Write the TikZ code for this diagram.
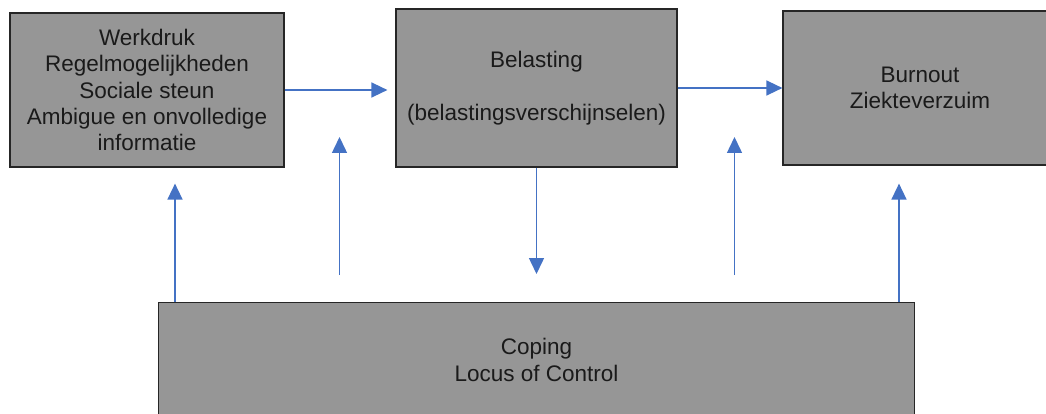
\documentclass[tikz,border=0pt]{standalone}
\usepackage{fontspec}
\setmainfont{Liberation Sans}
\usetikzlibrary{arrows.meta}
\definecolor{boxgray}{RGB}{150,150,150}
\definecolor{arrowblue}{RGB}{68,114,196}
\definecolor{textdark}{RGB}{26,26,26}
\begin{document}
\begin{tikzpicture}[x=1pt,y=-1pt,
  box/.style={draw=black!85, line width=1.2pt, fill=boxgray, inner sep=0pt,
    align=center, text=textdark,
    font=\fontsize{22.5}{26.3}\selectfont},
  flow/.style={draw=arrowblue, line width=1.5pt,
    -{Triangle[length=16pt,width=15pt]}}]
\useasboundingbox (0,0) rectangle (1046,414);

% top row
\node[box, minimum width=274pt, minimum height=154pt] (demands) at (147,90)
  {Werkdruk\\Regelmogelijkheden\\Sociale steun\\Ambigue en onvolledige\\informatie};
\node[box, minimum width=281pt, minimum height=158pt] (strain) at (536.5,88)
  {Belasting\\[26.3pt](belastingsverschijnselen)};
% outcome box runs past the right edge
\node[box, minimum width=274pt, minimum height=154pt] (outcome) at (920,88)
  {Burnout\\Ziekteverzuim};

% bottom box, running past the lower edge
\node[box, minimum width=756pt, minimum height=150pt, anchor=north] (coping) at (536.5,302)
  {};
\node[text=textdark, align=center, font=\fontsize{22.5}{26.3}\selectfont] (copingtext) at (536.5,360)
  {Coping\\Locus of Control};

% free ends of the moderating arrows
\coordinate (m1) at (175,302);
\coordinate (m2a) at (339.5,275);
\coordinate (m2b) at (339.5,137);
\coordinate (m3) at (536.5,274);
\coordinate (m4a) at (734.5,275);
\coordinate (m4b) at (734.5,137);
\coordinate (m5) at (899,302);

% horizontal flow
\draw[flow, shorten >=8pt] (demands.east |- 0,90) -- (strain.west |- 0,90);
\draw[flow] (strain.east) -- (outcome.west);

% vertical arrows
\draw[flow, shorten >=16pt] (m1) -- (m1 |- demands.south);
\draw[flow] (m2a) -- (m2b);
\draw[flow] (strain.south) -- (m3);
\draw[flow] (m4a) -- (m4b);
\draw[flow, shorten >=18pt] (m5) -- (m5 |- outcome.south);
\end{tikzpicture}
\end{document}
